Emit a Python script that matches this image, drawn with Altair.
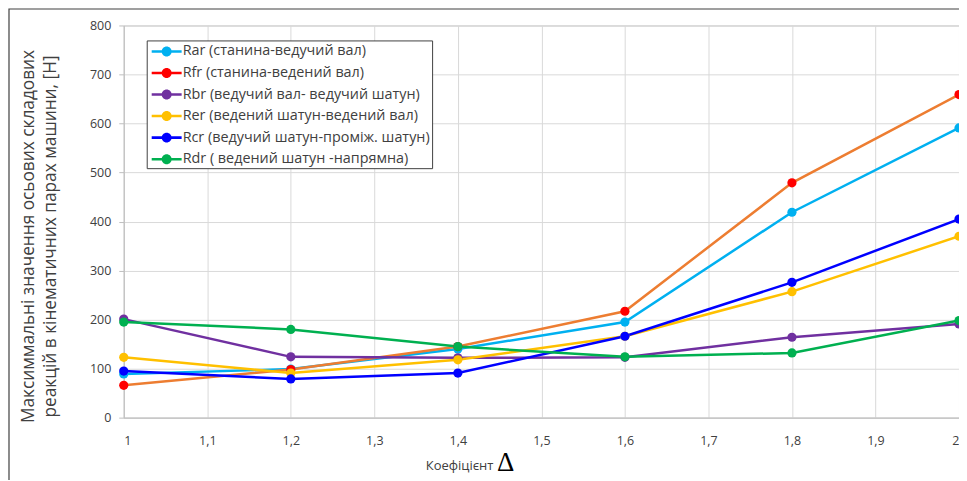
import altair as alt
import pandas as pd

# ---- data ----
x_values = [1.0, 1.2, 1.4, 1.6, 1.8, 2.0]
series_names = [
    "Rar (станина-ведучий вал)",
    "Rfr (станина-ведений вал)",
    "Rbr (ведучий вал- ведучий шатун)",
    "Rer (ведений шатун-ведений вал)",
    "Rcr (ведучий шатун-проміж. шатун)",
    "Rdr ( ведений шатун -напрямна)",
]
rar = [89, 99, 140, 195, 419, 591]
rfr = [66, 98, 145, 217, 479, 659]
rbr = [201, 124, 122, 123, 164, 191]
rer = [123, 91, 118, 166, 257, 370]
rcr = [95, 79, 91, 166, 276, 405]
rdr = [195, 180, 145, 124, 132, 198]
series_values = [rar, rfr, rbr, rer, rcr, rdr]

marker_colors = ["#00B0F0", "#FF0000", "#7030A0", "#FFC000", "#0000FF", "#00B050"]
line_colors = ["#00B0F0", "#ED7D31", "#7030A0", "#FFC000", "#0000FF", "#00B050"]

x_ticks = [1.0, 1.1, 1.2, 1.3, 1.4, 1.5, 1.6, 1.7, 1.8, 1.9, 2.0]
y_ticks = list(range(0, 801, 50))

y_title = ["Максиммальні значення осьових складових",
           "реакцій в кінематичних парах машини, [Н]"]
x_title = "Коефіцієнт"
delta_text = "Δ"

rows = []
for order, (name, vals) in enumerate(zip(series_names, series_values)):
    for xv, yv in zip(x_values, vals):
        rows.append({"series": name, "order": order, "x": xv, "y": yv})
df = pd.DataFrame(rows)

FONT = "Open Sans"
W, H = 837, 393

x_enc = alt.X("x:Q",
              scale=alt.Scale(domain=[1, 2], nice=False, zero=False),
              axis=alt.Axis(values=x_ticks,
                            labelExpr="replace(format(datum.value, '~g'), '.', ',')",
                            title=x_title, titleFontSize=13, titleFont=FONT,
                            titleFontWeight="normal", titleColor="#404040",
                            titleX=336, titleY=52, titleAlign="center",
                            titleBaseline="alphabetic",
                            labelPadding=17, tickSize=0,
                            labelFont=FONT, labelFontSize=12.5, labelColor="#404040",
                            grid=True, gridColor="#D9D9D9", gridWidth=1,
                            domainColor="#BFBFBF"))
y_enc = alt.Y("y:Q",
              scale=alt.Scale(domain=[0, 800], nice=False),
              axis=alt.Axis(values=y_ticks, title=y_title,
                            titleFontSize=17.3, titleFont=FONT,
                            titleFontWeight="normal", titleColor="#404040",
                            titleY=211, titlePadding=30, titleLineHeight=22,
                            labelFont=FONT, labelFontSize=12.5, labelColor="#404040",
                            labelPadding=8, tickSize=5, tickColor="#BFBFBF",
                            grid=True, gridColor="#D9D9D9", gridWidth=1,
                            domainColor="#BFBFBF"))

lines = alt.Chart(df).mark_line(strokeWidth=2.5).encode(
    x=x_enc, y=y_enc,
    color=alt.Color("series:N", scale=alt.Scale(domain=series_names, range=line_colors),
                    legend=None),
    detail="series:N",
    order="x:Q",
)

sym_path = ("M-0.667,-0.14 L2.667,-0.14 L2.667,0.14 L-0.667,0.14 Z "
            "M1.556,0 A0.556,0.556 0 1,1 0.444,0 A0.556,0.556 0 1,1 1.556,0 Z")

points = alt.Chart(df).mark_circle(size=85, opacity=1).encode(
    x="x:Q", y="y:Q",
    color=alt.Color("series:N",
                    scale=alt.Scale(domain=series_names, range=marker_colors),
                    sort=series_names,
                    legend=alt.Legend(title=None, orient="none", legendX=23, legendY=15,
                                      symbolType=sym_path, symbolSize=324,
                                      symbolStrokeWidth=0, labelOffset=16,
                                      labelFont=FONT, labelFontSize=14.4,
                                      labelColor="#404040", rowPadding=5.6,
                                      padding=2, strokeColor="#404040",
                                      fillColor="white", labelLimit=400)),
)

delta_df = pd.DataFrame({"t": [delta_text]})
delta = alt.Chart(delta_df).mark_text(
    font="Liberation Serif", fontSize=27, color="#000000", align="left",
    baseline="alphabetic"
).encode(text="t:N", x=alt.value(374), y=alt.value(H + 53))

frame_df = pd.DataFrame({"k": [0]})
frame = alt.Chart(frame_df).mark_rect(fill=None, stroke="#404040", strokeWidth=1.2).encode(
    x=alt.value(-115), x2=alt.value(W + 40), y=alt.value(-16.5), y2=alt.value(H + 100)
)

chart = alt.layer(frame, lines, points, delta).resolve_scale(color="independent").properties(
    width=W, height=H,
    autosize=alt.AutoSizeParams(type="none"),
    padding={"left": 116, "top": 17, "right": 0, "bottom": 62},
).configure(background="white").configure_view(stroke="#BFBFBF", strokeWidth=1)

chart.save("out.html", embed_options={"renderer": "svg", "actions": False})
